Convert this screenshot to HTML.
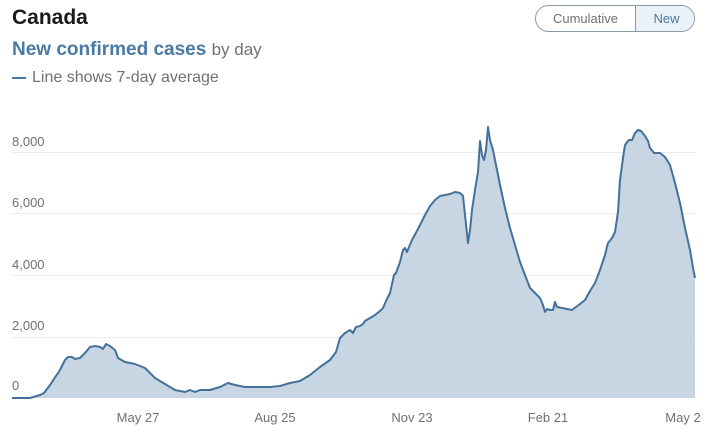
<!DOCTYPE html>
<html><head><meta charset="utf-8"><style>
body{margin:0;width:722px;height:441px;background:#fff;font-family:"Liberation Sans",sans-serif;overflow:hidden;position:relative}
.t{position:absolute;left:12px;top:6px;font-size:21px;font-weight:bold;color:#1a1a1a}
.s{position:absolute;left:12px;top:39px;font-size:19px;color:#4a7aa3;font-weight:bold}
.s span{font-weight:normal;color:#707070;font-size:17px}
.l{position:absolute;left:12px;top:69px;font-size:16px;color:#707070}
.l b{display:inline-block;width:14px;height:2px;background:#4a7aa3;vertical-align:middle;margin-right:6px}
.btn{position:absolute;left:535px;top:5px;width:160px;height:27px;border:1px solid #8a9aa8;border-radius:14px;overflow:hidden;font-size:13px;box-sizing:border-box}
.btn div{position:absolute;top:0;height:100%;line-height:25px;text-align:center}
</style></head><body>
<div class="t">Canada</div>
<div class="s">New confirmed cases <span>by day</span></div>
<div class="l"><b></b>Line shows 7-day average</div>
<div class="btn"><div style="left:0;width:99px;color:#707070">Cumulative</div><div style="left:99px;width:61px;background:#eaf1f7;border-left:1px solid #8a9aa8;color:#4a7aa3">New</div></div>
<svg width="722" height="441" style="position:absolute;left:0;top:0">
<g stroke="#ececec" stroke-width="1">
<line x1="12" x2="696" y1="152.5" y2="152.5"/><line x1="12" x2="696" y1="213.5" y2="213.5"/><line x1="12" x2="696" y1="275.5" y2="275.5"/><line x1="12" x2="696" y1="337.5" y2="337.5"/>
</g>
<g font-size="13" fill="#707070" font-family="Liberation Sans,sans-serif">
<text x="12" y="146">8,000</text><text x="12" y="207">6,000</text><text x="12" y="269">4,000</text><text x="12" y="330">2,000</text><text x="12" y="390">0</text>
<text x="138" y="422" text-anchor="middle">May 27</text><text x="275" y="422" text-anchor="middle">Aug 25</text><text x="412" y="422" text-anchor="middle">Nov 23</text><text x="548" y="422" text-anchor="middle">Feb 21</text><text x="683" y="422" text-anchor="middle">May 2</text>
</g>
<path d="M12,398 L30,398 40,395 44,393 50,385 60,370 65,360 68,357 72,357 75,359 80,358 85,353 90,347 95,346 100,347 103,349 106,344 110,346 115,350 118,358 125,362 135,364 145,368 155,378 165,384 175,390 185,392 190,390 195,392 200,390 210,390 220,387 228,383 235,385 245,387 255,387 270,387 280,386 290,383 300,381 310,375 320,367 330,360 336,352 340,338 345,333 350,330 353,333 356,327 360,326 363,324 365,321 370,318 375,315 380,311 383,308 386,301 390,293 394,275 396,273 400,262 403,250 405,248 407,252 409,247 412,240 418,229 425,215 430,206 435,200 440,196 445,195 450,194 455,192 460,193 463,196 465,215 468,243 470,230 472,210 475,190 478,172 480,141 482,155 484,160 486,150 488,127 490,140 493,150 497,170 500,185 505,208 510,228 515,245 520,262 525,275 530,288 535,293 540,298 543,305 545,312 547,309 550,310 553,310 555,302 557,307 562,308 567,309 572,310 576,307 580,304 585,300 590,291 595,283 600,270 605,255 608,243 612,238 615,232 618,212 620,180 623,158 625,145 628,141 629,140 632,140 635,133 638,130 641,131 645,136 648,141 650,148 654,153 660,153 665,157 670,165 675,183 680,203 685,228 690,250 693,268 695,278 L695,398 Z" fill="#c8d6e4" stroke="none"/>
<path d="M12,398 L30,398 40,395 44,393 50,385 60,370 65,360 68,357 72,357 75,359 80,358 85,353 90,347 95,346 100,347 103,349 106,344 110,346 115,350 118,358 125,362 135,364 145,368 155,378 165,384 175,390 185,392 190,390 195,392 200,390 210,390 220,387 228,383 235,385 245,387 255,387 270,387 280,386 290,383 300,381 310,375 320,367 330,360 336,352 340,338 345,333 350,330 353,333 356,327 360,326 363,324 365,321 370,318 375,315 380,311 383,308 386,301 390,293 394,275 396,273 400,262 403,250 405,248 407,252 409,247 412,240 418,229 425,215 430,206 435,200 440,196 445,195 450,194 455,192 460,193 463,196 465,215 468,243 470,230 472,210 475,190 478,172 480,141 482,155 484,160 486,150 488,127 490,140 493,150 497,170 500,185 505,208 510,228 515,245 520,262 525,275 530,288 535,293 540,298 543,305 545,312 547,309 550,310 553,310 555,302 557,307 562,308 567,309 572,310 576,307 580,304 585,300 590,291 595,283 600,270 605,255 608,243 612,238 615,232 618,212 620,180 623,158 625,145 628,141 629,140 632,140 635,133 638,130 641,131 645,136 648,141 650,148 654,153 660,153 665,157 670,165 675,183 680,203 685,228 690,250 693,268 695,278" fill="none" stroke="#44719a" stroke-width="2" stroke-linejoin="round"/>
</svg>
</body></html>
